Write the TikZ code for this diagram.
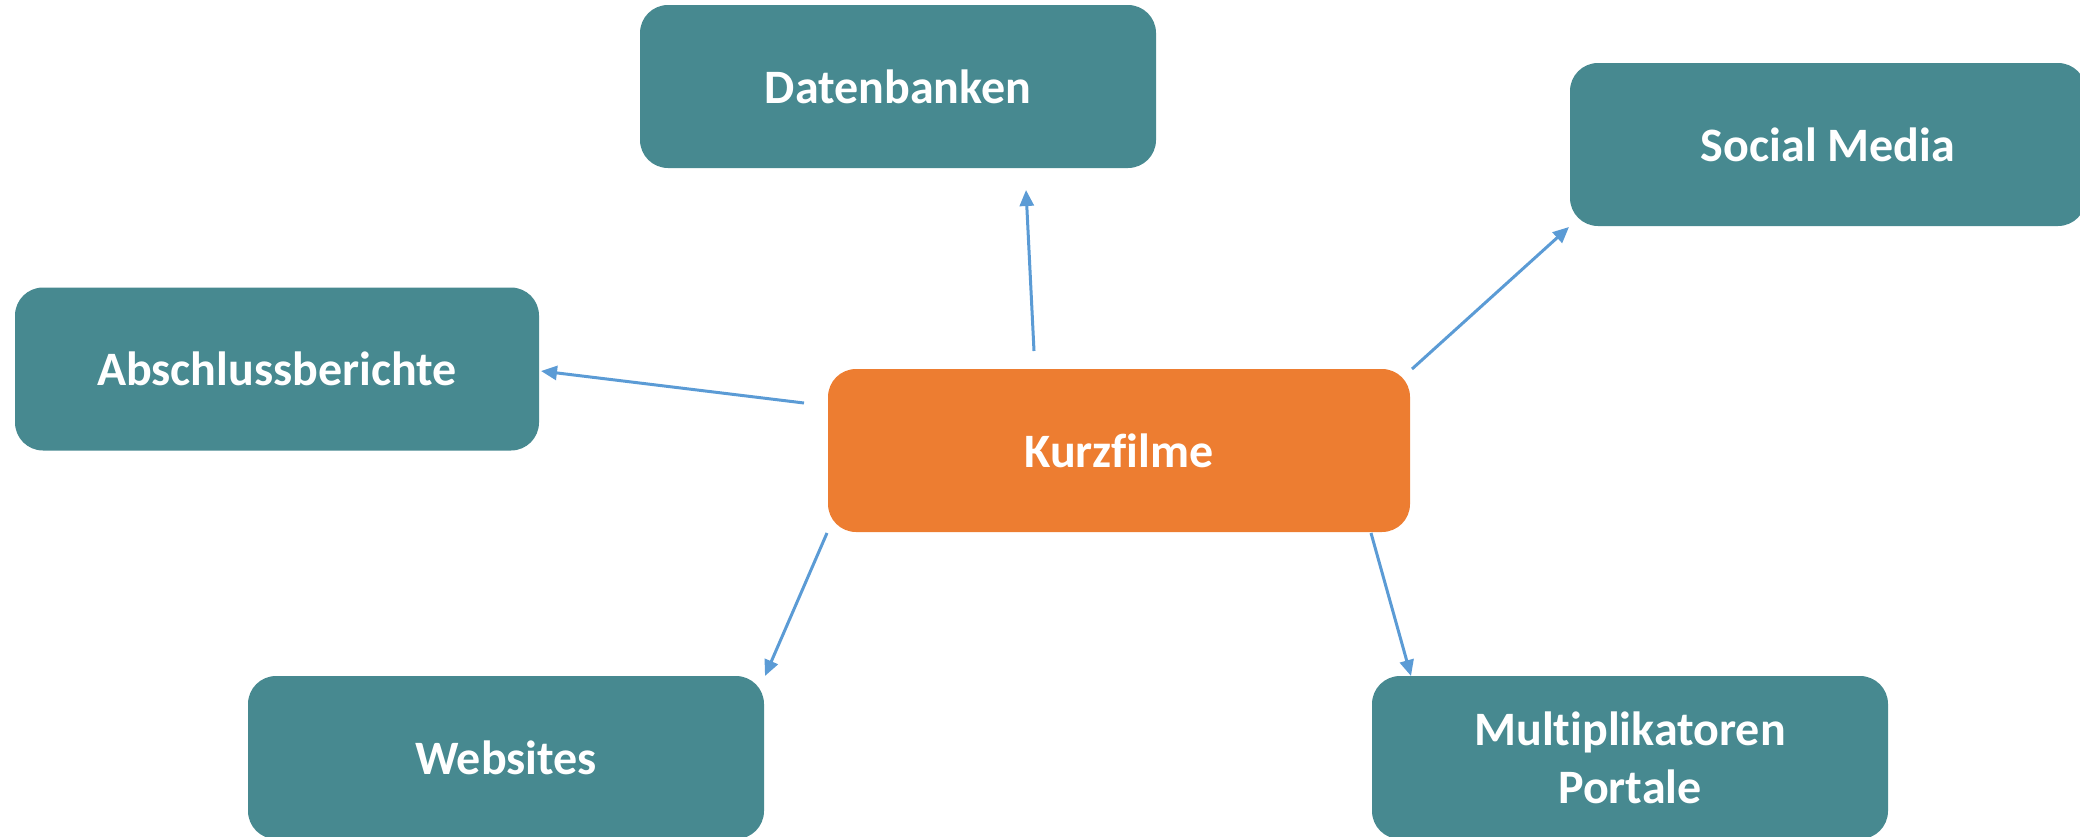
\documentclass[tikz,border=0pt]{standalone}
\usepackage{fontspec}
\setmainfont{Carlito}[RawFeature={-liga;-clig;-dlig}]
\usetikzlibrary{arrows.meta}
\definecolor{teal}{HTML}{478990}
\definecolor{orng}{HTML}{ED7D31}
\definecolor{arrblue}{HTML}{5B9BD5}
\tikzset{
  box/.style={fill=teal, rounded corners=28pt, minimum width=516pt, minimum height=163pt,
    inner sep=0pt, text=white, align=center,
    font=\fontsize{48}{58}\selectfont\bfseries},
  center box/.style={box, fill=orng, minimum width=582pt},
  conn/.style={draw=arrblue, line width=3pt, -{Triangle[length=16pt,width=14pt]}}
}
\begin{document}
\begin{tikzpicture}[x=1pt,y=-1pt]
\useasboundingbox (0,0) rectangle (2080,836);
\clip (0,0) rectangle (2080,836);
\node[box] (daten) at (898,86.5) {Datenbanken};
\node[box] (social) at (1828,144.5) {Social Media};
\node[box, minimum width=524pt] (absch) at (277,369) {Abschlussberichte};
\node[center box] (kurz) at (1119,450.5) {Kurzfilme};
\node[box] (web) at (506,757.5) {Websites};
\node[box] (multi) at (1630,757.5) {Multiplikatoren\\Portale};
% connector end points
\coordinate (kd) at (1034,351);
\coordinate (dk) at (1026,190);
\coordinate (ks) at (1412,369);
\coordinate (sk) at (1569,227);
\coordinate (ka) at (804,403);
\coordinate (ak) at (541,371);
\coordinate (kw) at (827,533);
\coordinate (wk) at (765,676);
\coordinate (km) at (1371,533);
\coordinate (mk) at (1411,676);
\draw[conn] (kd) -- (dk);
\draw[conn] (ks) -- (sk);
\draw[conn] (ka) -- (ak);
\draw[conn] (kw) -- (wk);
\draw[conn] (km) -- (mk);
\end{tikzpicture}
\end{document}
